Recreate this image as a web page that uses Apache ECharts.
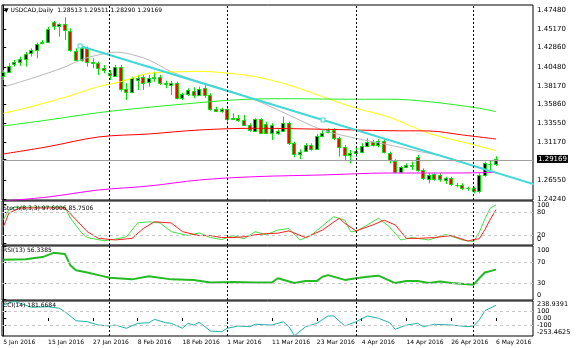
<!DOCTYPE html>
<html>
<head>
<meta charset="utf-8">
<script src="https://cdn.jsdelivr.net/npm/echarts@6/dist/echarts.min.js"></script>
<style>
  html, body { margin: 0; padding: 0; background: #fff; }
  #chart { width: 582px; height: 348px; }
</style>
</head>
<body>
<div id="chart"></div>
<script>
// USDCAD daily bars, 5 Jan 2016 - 6 May 2016
const dates = [
  '5 Jan','6 Jan','7 Jan','8 Jan','11 Jan','12 Jan','13 Jan','14 Jan','15 Jan','18 Jan',
  '19 Jan','20 Jan','21 Jan','22 Jan','25 Jan','26 Jan','27 Jan','28 Jan','29 Jan',
  '1 Feb','2 Feb','3 Feb','4 Feb','5 Feb','8 Feb','9 Feb','10 Feb','11 Feb','12 Feb',
  '15 Feb','16 Feb','17 Feb','18 Feb','19 Feb','22 Feb','23 Feb','24 Feb','25 Feb','26 Feb','29 Feb',
  '1 Mar','2 Mar','3 Mar','4 Mar','7 Mar','8 Mar','9 Mar','10 Mar','11 Mar','14 Mar',
  '15 Mar','16 Mar','17 Mar','18 Mar','21 Mar','22 Mar','23 Mar','24 Mar','25 Mar','28 Mar',
  '29 Mar','30 Mar','31 Mar',
  '1 Apr','4 Apr','5 Apr','6 Apr','7 Apr','8 Apr','11 Apr','12 Apr','13 Apr','14 Apr',
  '15 Apr','18 Apr','19 Apr','20 Apr','21 Apr','22 Apr','25 Apr','26 Apr','27 Apr','28 Apr','29 Apr',
  '2 May','3 May','4 May','5 May','6 May'
];
const year = '2016';

const open = [
  1.3941,1.3990,1.4081,1.4113,1.4146,1.4216,1.4257,1.4339,1.4359,1.4598,
  1.4556,1.4573,1.4494,1.4248,1.4134,1.4278,1.4113,1.4093,1.4032,
  1.3970,1.3941,1.4052,1.3777,1.3744,1.3888,1.3929,1.3860,1.3909,1.3929,
  1.3855,1.3827,1.3855,1.3663,1.3716,1.3756,1.3704,1.3793,1.3704,1.3528,1.3510,
  1.3528,1.3405,1.3417,1.3396,1.3334,1.3264,1.3405,1.3347,1.3240,1.3232,
  1.3264,1.3355,1.3109,1.2978,1.3018,1.3088,1.3036,1.3199,1.3252,1.3273,
  1.3171,1.3068,1.2966,
  1.2994,1.3006,1.3076,1.3129,1.3088,1.3138,1.2986,1.2892,1.2760,1.2814,
  1.2830,1.2945,1.2781,1.2667,1.2728,1.2720,1.2658,1.2679,1.2597,1.2597,1.2556,
  1.2556,1.2526,1.2720,1.2851,1.28513
];
const high = [
  1.4011,1.4097,1.4134,1.4175,1.4236,1.4278,1.4347,1.4380,1.4544,1.4614,
  1.4585,1.4659,1.4524,1.4278,1.4306,1.4298,1.4155,1.4113,1.4072,
  1.4011,1.4072,1.4072,1.3847,1.3929,1.3950,1.3958,1.3950,1.3990,1.3950,
  1.3879,1.3879,1.3867,1.3732,1.3786,1.3798,1.3806,1.3827,1.3724,1.3560,1.3547,
  1.3540,1.3478,1.3457,1.3457,1.3355,1.3417,1.3417,1.3375,1.3355,1.3281,
  1.3437,1.3375,1.3129,1.3036,1.3109,1.3109,1.3224,1.3273,1.3294,1.3294,
  1.3191,1.3088,1.3027,
  1.3068,1.3109,1.3171,1.3150,1.3159,1.3159,1.3006,1.2913,1.2830,1.2863,
  1.2883,1.2966,1.2802,1.2740,1.2740,1.2740,1.2699,1.2699,1.2625,1.2617,1.2576,
  1.2576,1.2740,1.2883,1.2904,1.29511
];
const low = [
  1.3888,1.3974,1.4052,1.4060,1.4052,1.4175,1.4155,1.4327,1.4339,1.4503,
  1.4421,1.4380,1.4236,1.4113,1.4113,1.4052,1.4032,1.3950,1.3970,
  1.3888,1.3929,1.3744,1.3642,1.3724,1.3765,1.3765,1.3806,1.3867,1.3827,
  1.3786,1.3704,1.3651,1.3642,1.3691,1.3663,1.3691,1.3667,1.3510,1.3498,1.3486,
  1.3375,1.3396,1.3375,1.3322,1.3252,1.3252,1.3224,1.3224,1.3150,1.3212,
  1.3252,1.3088,1.2937,1.2913,1.3006,1.3018,1.3027,1.3183,1.3232,1.3150,
  1.2945,1.2904,1.2863,
  1.2945,1.2986,1.3060,1.3068,1.3060,1.2986,1.2863,1.2740,1.2740,1.2802,
  1.2781,1.2760,1.2658,1.2617,1.2650,1.2637,1.2609,1.2584,1.2568,1.2535,1.2526,
  1.2494,1.2494,1.2699,1.2781,1.28290
];
const close = [
  1.3990,1.4060,1.4106,1.4143,1.4204,1.4257,1.4327,1.4359,1.4515,1.4556,
  1.4573,1.4503,1.4257,1.4134,1.4285,1.4113,1.4093,1.4032,1.4011,
  1.3950,1.4052,1.3777,1.3744,1.3909,1.3916,1.3855,1.3916,1.3929,1.3855,
  1.3839,1.3847,1.3663,1.3716,1.3765,1.3704,1.3777,1.3704,1.3528,1.3510,1.3531,
  1.3408,1.3417,1.3396,1.3334,1.3273,1.3405,1.3240,1.3240,1.3334,1.3264,
  1.3355,1.3109,1.2978,1.3006,1.3088,1.3036,1.3199,1.3240,1.3273,1.3171,
  1.3068,1.2966,1.2994,
  1.3015,1.3076,1.3129,1.3088,1.3138,1.3006,1.2904,1.2760,1.2814,1.2843,
  1.2843,1.2781,1.2679,1.2720,1.2667,1.2667,1.2679,1.2609,1.2600,1.2556,1.2560,
  1.2526,1.2720,1.2863,1.2855,1.29169
];

// moving averages, [bar, price]
const maGray = [[0,1.3802],[5,1.3906],[11,1.4048],[14,1.4140],[17,1.4196],[20,1.4229],[22,1.4216],
  [26,1.4134],[30,1.3990],[35,1.3867],[39,1.3786],[45,1.3642],[51,1.3457],[57,1.3273],[63,1.3171],
  [69,1.3088],[73,1.3027],[79,1.2941],[85,1.2806],[88,1.2744]];
const maYellow = [[0,1.3478],[5,1.3560],[11,1.3675],[17,1.3806],[21,1.3867],[26,1.3970],[32,1.3990],
  [35,1.3995],[39,1.3978],[45,1.3929],[51,1.3826],[57,1.3683],[63,1.3540],[69,1.3429],[76,1.3232],
  [83,1.3109],[88,1.3018]];
const maGreen = [[0,1.3322],[8,1.3396],[17,1.3486],[26,1.3552],[35,1.3609],[39,1.3633],[45,1.3654],
  [51,1.3658],[57,1.3654],[63,1.3651],[69,1.3651],[76,1.3621],[85,1.3540],[88,1.3498]];
const maRed = [[0,1.2978],[8,1.3068],[17,1.3187],[26,1.3224],[35,1.3273],[45,1.3294],[57,1.3282],
  [69,1.3264],[76,1.3261],[82,1.3212],[88,1.3162]];
const maMagenta = [[0,1.2400],[8,1.2449],[17,1.2535],[26,1.2584],[35,1.2658],[45,1.2699],[57,1.2720],
  [69,1.2744],[80,1.2744],[88,1.2750]];

// trend line anchors and its middle handle
const trendLine = [[13.7,1.4306],[57.1,1.3396],[100.5,1.2485]];

// oscillators, [bar, value]
const stochK = [[0,60],[1,85],[2,92],[5,92],[8,93],[11,92],[12,64],[14,27],[15,15],[18,7],[20,11],[22,17],
  [24,52],[26,55],[28,52],[30,30],[33,20],[35,27],[37,15],[39,10],[41,20],[43,12],[45,30],[47,22],[49,34],
  [51,38],[53,9],[55,21],[59,68],[61,59],[62,30],[63,30],[65,47],[67,64],[69,42],[71,9],[73,15],[76,9],
  [79,23],[82,9],[84,5],[85,28],[86,62],[87,90],[88,97.6006]];
const stochD = [[0,42],[1,77],[3,90],[11,90],[13,60],[15,30],[17,13],[20,9],[23,13],[25,38],[27,55],[30,52],
  [32,30],[35,20],[37,20],[39,15],[41,15],[43,17],[45,22],[47,25],[49,26],[51,32],[54,15],[57,34],[60,64],
  [61,51],[63,32],[66,47],[68,59],[70,47],[72,13],[74,13],[77,15],[80,20],[83,6],[84,10],[85,12],[86,35],
  [87,62],[88,85.7506]];
const rsi = [[0,75],[4,76],[7,80],[9,88],[11,86],[12,64],[13,55],[15,51],[17,46],[19,41],[23,38],[26,44],
  [30,38],[34,37],[37,32],[41,33],[45,32],[48,32],[49,40],[52,31],[54,35],[56,35],[57,43],[58,46],[61,37],
  [63,40],[65,43],[67,45],[70,31],[72,35],[74,35],[76,31],[78,34],[80,31],[84,28],[85,40],[86,51],[88,56.3385]];
const cci = [[0,186],[2,238.9391],[5,153],[8,161],[10,139],[11,90],[13,-39],[15,-53],[17,-100],[19,-114],
  [20,-100],[22,-147],[24,-76],[26,-67],[27,-19],[29,-67],[30,-76],[32,-147],[33,-76],[34,-100],[35,-61],
  [37,-186],[39,-196],[40,-147],[42,-114],[44,-124],[45,-90],[48,-100],[50,-53],[51,-124],[52,-253.4625],
  [54,-124],[56,-76],[58,29],[59,29],[61,-114],[63,-53],[65,29],[67,-4],[69,-67],[70,-161],[72,-100],
  [74,-76],[75,-124],[77,-90],[80,-100],[83,-124],[84,-114],[85,-29],[86,104],[88,181.6684]];

// scale labels
const priceTicks = [1.24240,1.26550,1.29169,1.31170,1.33550,1.35860,1.38170,1.40480,1.42860,1.45170,1.47480];
const bidPrice = 1.29169;
const stochLevels = [20, 80];
const stochEnds = [0, 100];
const rsiLevels = [30, 70];
const rsiEnds = [0, 100];
const cciLevels = [-100, 0, 100];
const cciEnds = [-253.4625, 238.9391];
const dateTicks = ['5 Jan','15 Jan','27 Jan','8 Feb','18 Feb','1 Mar','11 Mar','23 Mar','4 Apr','14 Apr','26 Apr','6 May'];
const periodStarts = ['1 Feb','1 Mar','1 Apr','2 May'];

const FONT = 'DejaVu Sans';
const FS = 6.5;
const last = dates.length - 1;
const candles = dates.map((d, i) => [i, open[i], close[i], low[i], high[i]]);
const sepData = periodStarts.map(d => ({ xAxis: dates.indexOf(d) }));

const grids = [
  { top: 5, height: 195 },
  { top: 201, height: 44 },
  { top: 246, height: 54 },
  { top: 301, height: 35 }
].map(g => Object.assign({ left: 2, right: 49, show: true, borderColor: '#000', borderWidth: 1 }, g));

const dateIdx = dateTicks.map(d => dates.indexOf(d));
const xAxes = grids.map((g, k) => ({
  type: 'value', gridIndex: k, min: -0.23, max: 94.6,
  axisLine: { show: false }, splitLine: { show: false },
  axisTick: k === 3 ? { show: true, length: 3, lineStyle: { color: '#000' }, customValues: dateIdx } : { show: false },
  axisLabel: k === 3 ? {
    show: true, customValues: dateIdx, hideOverlap: false,
    formatter: v => dates[Math.round(v)] + ' ' + year,
    align: 'left', margin: 3, fontSize: 6, fontFamily: FONT, color: '#000'
  } : { show: false }
}));

const txt = { fontSize: FS, fontFamily: FONT, color: '#000' };
// rich styles that nudge a label down (dn) or up (up) inside its window
function nudge(padTop, padBottom) {
  return {
    dn: Object.assign({ padding: [padTop, 0, 0, 0] }, txt),
    up: Object.assign({ padding: [0, 0, padBottom, 0] }, txt)
  };
}

// scale with axis line, ticks and labels
function scaleAxis(k, min, max, ticks, labels, fmt, rich, fontSize) {
  return {
    type: 'value', gridIndex: k, position: 'right', min: min, max: max,
    axisLine: { show: true, lineStyle: { color: '#000' } },
    splitLine: { show: false },
    axisTick: { show: true, length: 3, lineStyle: { color: '#000' }, customValues: ticks },
    axisLabel: { show: true, customValues: labels, formatter: fmt, rich: rich, margin: 4, hideOverlap: false,
      showMinLabel: true, showMaxLabel: true,
      fontSize: fontSize || FS, fontFamily: FONT, color: '#000' }
  };
}
// extra label-only scale sharing a window
function labelAxis(k, min, max, labels, fmt, rich, vAlign) {
  return {
    type: 'value', gridIndex: k, position: 'right', min: min, max: max,
    axisLine: { show: false }, axisTick: { show: false }, splitLine: { show: false },
    axisLabel: { show: true, customValues: labels, margin: 4, hideOverlap: false,
      showMinLabel: true, showMaxLabel: true, verticalAlign: vAlign || 'middle',
      fontSize: FS, fontFamily: FONT, color: '#000', formatter: fmt, rich: rich }
  };
}

const yAxes = [
  scaleAxis(0, 1.2412, 1.4810, priceTicks, priceTicks,
    v => Math.abs(v - bidPrice) < 1e-6 ? '{hl|' + v.toFixed(5) + '}' : v.toFixed(5),
    { hl: { backgroundColor: '#000', color: '#fff', padding: [1, 1, 0, 1], fontSize: 7, fontFamily: FONT } }, 7),
  scaleAxis(1, -3.8, 107.6, stochEnds.concat(stochLevels), stochLevels, v => String(v)),
  scaleAxis(2, -0.9, 100.9, rsiEnds.concat(rsiLevels), rsiLevels, v => String(v)),
  scaleAxis(3, -257.1, 242.9, cciLevels, cciLevels, v => v === 0 ? '0.00' : String(v)),
  labelAxis(1, -3.8, 107.6, [stochEnds[1]], v => '{dn|' + v + '}', nudge(3, 0)),
  labelAxis(2, -0.9, 100.9, [rsiEnds[0]], v => '{up|' + v + '}', nudge(0, 8)),
  labelAxis(3, -257.1, 242.9, cciEnds, v => (v === cciEnds[1] ? '{dn|' : '{up|') + v.toFixed(4) + '}', nudge(6, 7))
];

function renderCandle(params, api) {
  const i = api.value(0);
  const o = api.value(1), c = api.value(2), lo = api.value(3), hi = api.value(4);
  const pH = api.coord([i, hi]), pL = api.coord([i, lo]);
  const pO = api.coord([i, o]), pC = api.coord([i, c]);
  const cx = Math.round(pH[0]);
  const top = Math.round(Math.min(pO[1], pC[1])) + 0.5;
  const bot = Math.round(Math.max(pO[1], pC[1])) + 0.5;
  return {
    type: 'group',
    children: [
      { type: 'line', shape: { x1: cx + 0.5, y1: pH[1], x2: cx + 0.5, y2: pL[1] }, style: { stroke: '#00e000', lineWidth: 1 } },
      { type: 'rect', shape: { x: cx - 1.5, y: top, width: 3, height: Math.max(bot - top, 0) },
        style: { fill: c >= o ? '#000' : '#ff0000', stroke: '#00e000', lineWidth: 1 } }
    ]
  };
}

const sepLine = { color: '#000', type: [2, 2], width: 1 };
function levelMarks(levels) {
  return {
    silent: true, symbol: ['none', 'none'], label: { show: false }, animation: false,
    lineStyle: sepLine,
    data: levels.map(v => ({ yAxis: v, lineStyle: { color: '#c8c8c8', type: [3, 3], width: 1 } })).concat(sepData)
  };
}

function maLine(data, color, extra) {
  return Object.assign({
    type: 'line', xAxisIndex: 0, yAxisIndex: 0, data: data, showSymbol: false, smooth: 0.35,
    lineStyle: { color: color, width: 1 }, clip: true, z: 3
  }, extra || {});
}
function oscLine(k, data, color, extra) {
  return Object.assign({
    type: 'line', xAxisIndex: k, yAxisIndex: k, data: data, showSymbol: false,
    lineStyle: { color: color, width: 1 }, clip: true, z: 3
  }, extra || {});
}

const textStyle = { fontSize: 6, fontWeight: 'normal', color: '#000', fontFamily: FONT };
const scaleText = { fontSize: FS, fontWeight: 'normal', color: '#000', fontFamily: FONT };
const f5 = v => v.toFixed(5);
const f4 = v => v.toFixed(4);

const option = {
  animation: false,
  backgroundColor: '#fff',
  title: [
    { text: '\u25BC USDCAD,Daily  ' + [open[last], high[last], low[last], close[last]].map(f5).join(' '), left: 4, top: 7, padding: 0, textStyle: textStyle },
    { text: 'Stoch(8,3,3) ' + f4(stochK[stochK.length - 1][1]) + ' ' + f4(stochD[stochD.length - 1][1]), left: 3, top: 205, padding: 0, textStyle: textStyle },
    { text: 'RSI(13) ' + f4(rsi[rsi.length - 1][1]), left: 3, top: 247, padding: 0, textStyle: textStyle },
    { text: 'CCI(14) ' + f4(cci[cci.length - 1][1]), left: 3, top: 302, padding: 0, textStyle: textStyle },
    // edge labels where the Stochastic and RSI windows meet
    { text: String(stochEnds[0]), left: 537, top: 236, padding: 0, textStyle: scaleText },
    { text: String(rsiEnds[1]), left: 537, top: 247, padding: 0, textStyle: scaleText }
  ],
  grid: grids,
  xAxis: xAxes,
  yAxis: yAxes,
  series: [
    {
      type: 'custom', xAxisIndex: 0, yAxisIndex: 0, data: candles, renderItem: renderCandle,
      encode: { x: 0, y: [1, 2, 3, 4] }, clip: true, z: 2
    },
    maLine(maGray, '#b8b8b8', {
      markLine: {
        silent: true, symbol: ['none', 'none'], label: { show: false }, lineStyle: sepLine,
        data: sepData.concat([{ yAxis: bidPrice, lineStyle: { color: '#a0a0a0', type: 'solid', width: 1 } }])
      }
    }),
    maLine(maYellow, '#ffff00'),
    maLine(maGreen, '#22ee22'),
    maLine(maRed, '#ff0000'),
    maLine(maMagenta, '#ff00ff'),
    maLine(trendLine, '#40d8d8', {
      smooth: false, showSymbol: true, symbol: 'rect', symbolSize: 4,
      itemStyle: { color: '#fff', borderColor: '#40d8d8', borderWidth: 1 },
      lineStyle: { color: '#40d8d8', width: 2 }, z: 4
    }),
    oscLine(1, stochK, '#44e044', { markLine: levelMarks(stochLevels) }),
    oscLine(1, stochD, '#ff2020'),
    oscLine(2, rsi, '#22bb22', { markLine: levelMarks(rsiLevels), lineStyle: { color: '#22bb22', width: 2 } }),
    oscLine(3, cci, '#20b2aa', { markLine: levelMarks([100, -100]) })
  ]
};

const chart = echarts.init(document.getElementById('chart'), null, { renderer: 'canvas' });
chart.setOption(option);
</script>
</body>
</html>
